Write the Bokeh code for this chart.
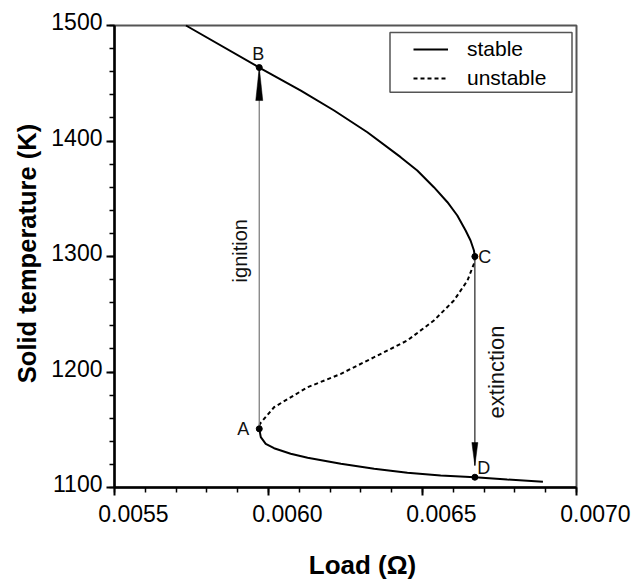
from math import pi
from bokeh.plotting import figure
from bokeh.models import (Range1d, SingleIntervalTicker, LabelSet, Label, ColumnDataSource,
                          Legend, LegendItem, BoxAnnotation, LinearAxis, CustomJSTickFormatter)
from bokeh.core.properties import value
from bokeh.embed import file_html
from bokeh.resources import INLINE

# ---------------- data ----------------
upper_load = [0.005732, 0.005970, 0.006105, 0.006213, 0.006321, 0.006429, 0.006483,
              0.006537, 0.006581, 0.006613, 0.006640, 0.006656, 0.006667, 0.006670]
upper_temp = [1500.0, 1463.6, 1443.7, 1426.4, 1407.6, 1386.0, 1374.5,
              1360.0, 1347.0, 1335.5, 1322.5, 1313.9, 1305.2, 1300.0]

unstable_load = [0.006670, 0.006667, 0.006646, 0.006602, 0.006537, 0.006451,
                 0.006343, 0.006235, 0.006127, 0.006018, 0.005972, 0.005970]
unstable_temp = [1300.0, 1293.7, 1279.2, 1261.9, 1244.6, 1227.3,
                 1212.8, 1198.4, 1186.8, 1169.5, 1155.1, 1150.8]

lower_load = [0.005970, 0.005975, 0.005991, 0.006018, 0.006072, 0.006127, 0.006235,
              0.006343, 0.006451, 0.006559, 0.006670, 0.006775, 0.006891]
lower_temp = [1150.8, 1143.6, 1137.8, 1134.0, 1129.2, 1125.7, 1120.5,
              1116.2, 1112.7, 1110.4, 1108.9, 1106.9, 1104.9]

point_names = ["A", "B", "C", "D"]
point_load = [0.005970, 0.005970, 0.006670, 0.006670]
point_temp = [1150.8, 1463.6, 1300.0, 1108.9]

arrow_names = ["ignition", "extinction"]
arrow_load = [0.005970, 0.006670]
arrow_from = [1150.8, 1300.0]
arrow_to = [1463.6, 1119.0]
arrow_text_temp = [1305.0, 1200.0]

x_ticks = [0.0055, 0.0060, 0.0065, 0.0070]
x_tick_labels = ["0.0055", "0.0060", "0.0065", "0.0070"]
y_ticks = [1100, 1200, 1300, 1400, 1500]
y_tick_labels = ["1100", "1200", "1300", "1400", "1500"]

legend_labels = ["stable", "unstable"]
x_title = "Load (Ω)"
y_title = "Solid temperature (K)"

# ---------------- layout / styles ----------------
SANS = "Liberation Sans"
W, H = 631, 584
X0, X1, Y0, Y1 = 0.0055, 0.0070, 1100, 1500
FL, FT, FW, FH = 114, 25, 462, 462          # plot box in pixels
XPX = FW / (X1 - X0)
YPX = FH / (Y1 - Y0)

p = figure(width=W, height=H, output_backend="svg", toolbar_location=None,
           x_axis_type=None, y_axis_type=None,
           x_range=Range1d(X0 - FL / XPX, X0 + (W - FL) / XPX),
           y_range=Range1d(Y0 - (H - FT - FH) / YPX, Y1 + FT / YPX),
           min_border=0, min_border_left=0, min_border_right=0,
           min_border_top=0, min_border_bottom=0)
p.grid.visible = False
p.background_fill_color = "white"
p.border_fill_color = "white"
p.outline_line_alpha = 0

# frame box (top / right edges visible in grey)
p.add_layout(BoxAnnotation(left=X0, right=X1, bottom=Y0, top=Y1, level="underlay",
                           fill_alpha=0, line_color="#555555", line_alpha=1, line_width=2))

xaxis = LinearAxis(fixed_location=Y0, bounds=(X0, X1),
                   ticker=SingleIntervalTicker(interval=0.0005, num_minor_ticks=5))
yaxis = LinearAxis(fixed_location=X0, bounds=(Y0, Y1),
                   ticker=SingleIntervalTicker(interval=100, num_minor_ticks=5))
for ax in (xaxis, yaxis):
    ax.axis_line_width = 2.5
    ax.axis_line_color = "black"
    ax.major_tick_out = 8
    ax.major_tick_in = 0
    ax.minor_tick_out = 5
    ax.minor_tick_in = 0
    ax.major_tick_line_width = 2
    ax.minor_tick_line_width = 1.5
    ax.major_tick_line_color = "black"
    ax.minor_tick_line_color = "black"
    ax.formatter = CustomJSTickFormatter(code="return ''")
    ax.major_label_text_font_size = "1px"
p.add_layout(xaxis, "below")
p.add_layout(yaxis, "left")

# curves
r_upper = p.line(upper_load, upper_temp, line_color="black", line_width=2)
r_unst = p.line(unstable_load, unstable_temp, line_color="black", line_width=2, line_dash="4 3")
r_lower = p.line(lower_load, lower_temp, line_color="black", line_width=2)

# arrows (shafts + narrow heads)
p.segment(x0=arrow_load, y0=arrow_from, x1=arrow_load, y1=arrow_to,
          line_color=["#808080", "#333333"], line_width=1.3)
head_len = [33, 23]
head_half = [3.5, 3.0]
hx, hy = [], []
for xl, y0, y1, hl, hw in zip(arrow_load, arrow_from, arrow_to, head_len, head_half):
    sgn = 1 if y1 > y0 else -1
    base = y1 - sgn * hl / YPX
    hx.append([xl - hw / XPX, xl + hw / XPX, xl])
    hy.append([base, base, y1])
p.patches(hx, hy, fill_color="black", line_color="black", line_width=0.5)

# points
p.scatter(point_load, point_temp, size=6, color="black")
label_dx = [-16, -1, 10, 9]
label_dy = [0, 14, 0, 9]
for nm, xl, yl, dx, dy in zip(point_names, point_load, point_temp, label_dx, label_dy):
    p.add_layout(Label(x=xl, y=yl, text=nm, x_offset=dx, y_offset=dy,
                       text_align="center", text_baseline="middle",
                       text_font=SANS, text_font_size="18px", text_color="#111111"))

# arrow texts
arrow_dx = [-19, 22]
arrow_fs = ["20px", "22px"]
for nm, xl, yt, dx, fs in zip(arrow_names, arrow_load, arrow_text_temp, arrow_dx, arrow_fs):
    p.add_layout(Label(x=xl, y=yt, text=nm, x_offset=dx, angle=pi / 2,
                       text_align="center", text_baseline="middle",
                       text_font=SANS, text_font_size=fs, text_color="#111111"))

# tick labels
xt_src = ColumnDataSource(dict(x=x_ticks, y=[Y0] * len(x_ticks), t=x_tick_labels))
p.add_layout(LabelSet(x="x", y="y", text="t", source=xt_src, x_offset=19, y_offset=-26,
                      text_align="center", text_baseline="middle",
                      text_font=value(SANS), text_font_size=value("23px"), text_color="black"))
yt_src = ColumnDataSource(dict(x=[X0] * len(y_ticks), y=y_ticks, t=y_tick_labels))
p.add_layout(LabelSet(x="x", y="y", text="t", source=yt_src, x_offset=-12, y_offset=4,
                      text_align="right", text_baseline="middle",
                      text_font=value(SANS), text_font_size=value("23px"), text_color="black"))

# axis titles
p.add_layout(Label(x=(X0 + X1) / 2, y=Y0, text=x_title, x_offset=17, y_offset=-77,
                   text_align="center", text_baseline="middle",
                   text_font=SANS, text_font_style="bold", text_font_size="26px", text_color="black"))
p.add_layout(Label(x=X0, y=(Y0 + Y1) / 2, text=y_title, x_offset=-88, y_offset=3,
                   angle=pi / 2, text_align="center", text_baseline="middle",
                   text_font=SANS, text_font_style="bold", text_font_size="25.5px", text_color="black"))

# legend
legend = Legend(items=[LegendItem(label=legend_labels[0], renderers=[r_upper]),
                       LegendItem(label=legend_labels[1], renderers=[r_unst])],
                location=(FL + 299, H - FT - FH + 397), padding=0, margin=0, spacing=5,
                glyph_width=35, glyph_height=22, label_height=22, label_standoff=19,
                label_text_font=SANS, label_text_font_size="21px", label_text_color="black",
                border_line_alpha=0, background_fill_alpha=0)
p.add_layout(legend)
p.add_layout(BoxAnnotation(left=X0 + 275.5 / XPX, right=X0 + 457.5 / XPX,
                           top=Y1 - 7 / YPX, bottom=Y1 - 66.7 / YPX,
                           fill_alpha=0, line_color="#555555", line_alpha=1, line_width=1.5))

open("out.html", "w").write(file_html(p, INLINE))
